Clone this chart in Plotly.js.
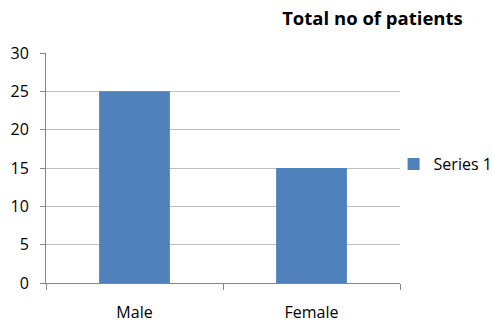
<!DOCTYPE html>
<html><head><meta charset="utf-8">
<script src="https://cdn.plot.ly/plotly-3.0.1.min.js"></script>
<style>html,body{margin:0;padding:0;background:#fff}</style>
</head><body>
<div id="chart" style="width:492px;height:322px"></div>
<script>
const categories = ["Male", "Female"];
const series1 = [25, 15];
const seriesName = "Series 1";
const chartTitle = "Total no of patients";
const yTicks = [0, 5, 10, 15, 20, 25, 30];

const font = "Open Sans, Liberation Sans, sans-serif";
Plotly.newPlot("chart", [{
  type: "bar", x: categories, y: series1, name: seriesName,
  marker: {color: "#4F81BD"}, showlegend: true
}], {
  width: 492, height: 322,
  margin: {l: 46, r: 92, t: 53, b: 39, autoexpand: false},
  paper_bgcolor: "#fff", plot_bgcolor: "#fff",
  bargap: 0.6,
  font: {family: font, size: 16, color: "#000"},
  title: {text: "<b>" + chartTitle + "</b>", x: 0.757, xanchor: "center", y: 0.944, yanchor: "middle",
          font: {family: font, size: 18.5, color: "#000"}},
  xaxis: {type: "category", tickson: "boundaries", ticks: "outside", ticklen: 6, tickcolor: "#868686",
          showline: true, linecolor: "#868686", showgrid: false, ticklabelstandoff: 15,
          tickfont: {size: 16}},
  yaxis: {range: [0, 30], tickvals: yTicks, ticks: "outside", ticklen: 5, tickcolor: "#868686",
          showline: true, linecolor: "#868686", gridcolor: "#BFBFBF", zeroline: false,
          ticklabelstandoff: 8, tickfont: {size: 16}},
  legend: {xref: "container", yref: "container", x: 0.80, xanchor: "left", y: 0.49, yanchor: "middle",
           font: {size: 16}, itemwidth: 30, bgcolor: "rgba(0,0,0,0)"}
}, {displayModeBar: false, staticPlot: true});
</script>
</body></html>
